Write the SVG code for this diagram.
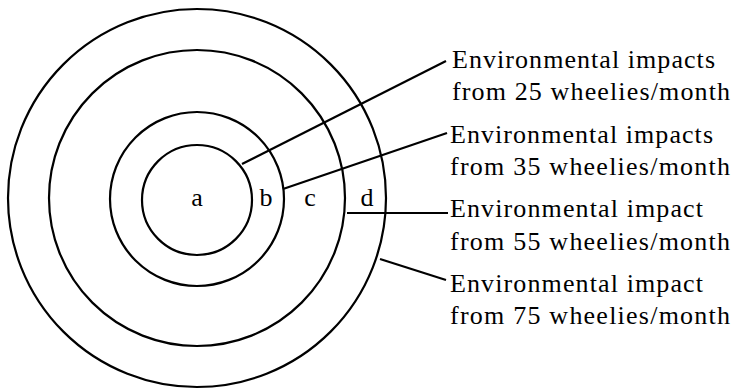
<svg xmlns="http://www.w3.org/2000/svg" width="734" height="391" viewBox="0 0 734 391">
  <style>
    .ring { fill: none; stroke: #000; stroke-width: 2.2; }
    .lead { fill: none; stroke: #000; stroke-width: 2.2; }
    .zone { font-family: "Liberation Serif", serif; font-size: 26px; fill: #000; text-anchor: middle; }
    .note { font-family: "Liberation Serif", serif; font-size: 26px; fill: #000; }
  </style>
  <rect width="734" height="391" fill="#fff"/>

  <!-- concentric rings, innermost to outermost -->
  <g id="ring-a"><circle class="ring" cx="197" cy="200" r="55"/><text class="zone" x="197" y="206">a</text></g>
  <g id="ring-b"><circle class="ring" cx="197" cy="199" r="87"/><text class="zone" x="266" y="206">b</text></g>
  <g id="ring-c"><circle class="ring" cx="197" cy="198" r="148"/><text class="zone" x="310" y="206">c</text></g>
  <g id="ring-d"><circle class="ring" cx="197" cy="198" r="189"/><text class="zone" x="367" y="206">d</text></g>

  <!-- leader lines -->
  <g id="leaders">
    <line class="lead" x1="242" y1="164" x2="446" y2="61"/>
    <line class="lead" x1="283" y1="189" x2="447" y2="133"/>
    <line class="lead" x1="347" y1="213" x2="448" y2="213"/>
    <line class="lead" x1="380" y1="259" x2="446" y2="280"/>
  </g>

  <!-- captions -->
  <g id="note-25">
    <text class="note" x="452" y="68" textLength="263" lengthAdjust="spacing">Environmental impacts</text>
    <text class="note" x="452" y="100" textLength="278" lengthAdjust="spacing">from 25 wheelies/month</text>
  </g>
  <g id="note-35">
    <text class="note" x="450" y="143" textLength="263" lengthAdjust="spacing">Environmental impacts</text>
    <text class="note" x="450" y="175" textLength="280" lengthAdjust="spacing">from 35 wheelies/month</text>
  </g>
  <g id="note-55">
    <text class="note" x="450" y="217" textLength="253" lengthAdjust="spacing">Environmental impact</text>
    <text class="note" x="450" y="250" textLength="280" lengthAdjust="spacing">from 55 wheelies/month</text>
  </g>
  <g id="note-75">
    <text class="note" x="450" y="292" textLength="253" lengthAdjust="spacing">Environmental impact</text>
    <text class="note" x="450" y="324" textLength="280" lengthAdjust="spacing">from 75 wheelies/month</text>
  </g>
</svg>
